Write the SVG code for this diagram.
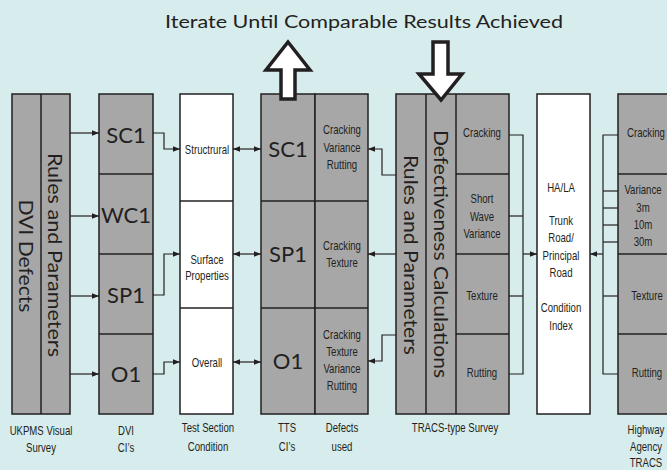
<svg xmlns="http://www.w3.org/2000/svg" width="667" height="470" viewBox="0 0 667 470">
<defs>
<marker id="ah" markerUnits="userSpaceOnUse" markerWidth="8" markerHeight="8" refX="7" refY="4" orient="auto">
<path d="M0,1.2 L7,4 L0,6.8 Z" fill="#231f20"/>
</marker>
<marker id="as" markerUnits="userSpaceOnUse" markerWidth="8" markerHeight="8" refX="1" refY="4" orient="auto">
<path d="M8,1.2 L1,4 L8,6.8 Z" fill="#231f20"/>
</marker>
<style>
.g{fill:#a7a7a7;stroke:#231f20;stroke-width:1.5}
.w{fill:#ffffff;stroke:#231f20;stroke-width:1.5}
.d{stroke:#231f20;stroke-width:1.5;fill:none}
.c{stroke:#231f20;stroke-width:1.2;fill:none}
.big{font-family:Lato,"Open Sans",sans-serif;font-size:22px;fill:#231f20;text-anchor:middle}
.rot{font-family:Lato,"Open Sans",sans-serif;font-size:19px;fill:#231f20;text-anchor:middle}
.sm{font-family:"Liberation Sans",Arial,sans-serif;font-size:12px;fill:#231f20;text-anchor:middle}
.title{font-family:Lato,"Open Sans",sans-serif;font-size:18px;fill:#231f20;text-anchor:middle}
.fat{fill:#ffffff;stroke:#231f20;stroke-width:3.5;stroke-linejoin:miter}
</style>
</defs>
<rect x="0" y="0" width="667" height="470" fill="#d7ecec"/>

<text class="title" x="364" y="28" textLength="398" lengthAdjust="spacingAndGlyphs">Iterate Until Comparable Results Achieved</text>

<g id="ukpms-visual-survey">
<rect class="g" x="12" y="94" width="58" height="320"/>
<line class="d" x1="41" y1="94" x2="41" y2="414"/>
<text class="rot" transform="translate(26,256) rotate(90)" y="7" textLength="113" lengthAdjust="spacingAndGlyphs" font-size="20">DVI Defects</text>
<text class="rot" transform="translate(55,255) rotate(90)" y="7" textLength="204" lengthAdjust="spacingAndGlyphs">Rules and Parameters</text>
<text class="sm" transform="translate(41,435) scale(0.8,1)">UKPMS Visual</text>
<text class="sm" transform="translate(41,452) scale(0.8,1)">Survey</text>
</g>

<g id="dvi-cis">
<rect class="g" x="99" y="94" width="54" height="320"/>
<line class="d" x1="99" y1="174" x2="153" y2="174"/>
<line class="d" x1="99" y1="254" x2="153" y2="254"/>
<line class="d" x1="99" y1="334" x2="153" y2="334"/>
<text class="big" x="126" y="143">SC1</text>
<text class="big" x="126" y="223">WC1</text>
<text class="big" x="126" y="303">SP1</text>
<text class="big" x="126" y="382">O1</text>
<text class="sm" transform="translate(126,435) scale(0.8,1)">DVI</text>
<text class="sm" transform="translate(126,452) scale(0.8,1)">CI’s</text>
</g>

<g id="test-section-condition">
<rect class="w" x="180" y="94" width="53" height="320"/>
<line class="d" x1="180" y1="201" x2="233" y2="201"/>
<line class="d" x1="180" y1="308" x2="233" y2="308"/>
<text class="sm" transform="translate(207,153.5) scale(0.8,1)">Structrural</text>
<text class="sm" transform="translate(207,264) scale(0.8,1)">Surface</text>
<text class="sm" transform="translate(207,280) scale(0.8,1)">Properties</text>
<text class="sm" transform="translate(207,367) scale(0.8,1)">Overall</text>
<text class="sm" transform="translate(208,432) scale(0.8,1)">Test Section</text>
<text class="sm" transform="translate(208,451) scale(0.8,1)">Condition</text>
</g>

<g id="tts-cis">
<rect class="g" x="261" y="94" width="54" height="320"/>
<line class="d" x1="261" y1="201" x2="315" y2="201"/>
<line class="d" x1="261" y1="308" x2="315" y2="308"/>
<text class="big" x="288" y="157">SC1</text>
<text class="big" x="288" y="262">SP1</text>
<text class="big" x="288" y="369">O1</text>
<text class="sm" transform="translate(287,432) scale(0.8,1)">TTS</text>
<text class="sm" transform="translate(287,451) scale(0.8,1)">CI’s</text>
</g>

<g id="defects-used">
<rect class="g" x="315" y="94" width="53" height="320"/>
<line class="d" x1="315" y1="201" x2="368" y2="201"/>
<line class="d" x1="315" y1="308" x2="368" y2="308"/>
<text class="sm" transform="translate(342,134) scale(0.8,1)">Cracking</text>
<text class="sm" transform="translate(342,152) scale(0.8,1)">Variance</text>
<text class="sm" transform="translate(342,169) scale(0.8,1)">Rutting</text>
<text class="sm" transform="translate(342,250) scale(0.8,1)">Cracking</text>
<text class="sm" transform="translate(342,267) scale(0.8,1)">Texture</text>
<text class="sm" transform="translate(342,339) scale(0.8,1)">Cracking</text>
<text class="sm" transform="translate(342,356) scale(0.8,1)">Texture</text>
<text class="sm" transform="translate(342,373) scale(0.8,1)">Variance</text>
<text class="sm" transform="translate(342,390) scale(0.8,1)">Rutting</text>
<text class="sm" transform="translate(342,432) scale(0.8,1)">Defects</text>
<text class="sm" transform="translate(342,451) scale(0.8,1)">used</text>
</g>

<g id="tracs-type-survey">
<rect class="g" x="396" y="94" width="113" height="320"/>
<line class="d" x1="426" y1="94" x2="426" y2="414"/>
<line class="d" x1="456" y1="94" x2="456" y2="414"/>
<line class="d" x1="456" y1="174" x2="509" y2="174"/>
<line class="d" x1="456" y1="254" x2="509" y2="254"/>
<line class="d" x1="456" y1="334" x2="509" y2="334"/>
<text class="rot" transform="translate(411,255) rotate(90)" y="7" textLength="200" lengthAdjust="spacingAndGlyphs">Rules and Parameters</text>
<text class="rot" transform="translate(441,254) rotate(90)" y="7" textLength="248" lengthAdjust="spacingAndGlyphs">Defectiveness Calculations</text>
<text class="sm" transform="translate(482,137) scale(0.8,1)">Cracking</text>
<text class="sm" transform="translate(482,203) scale(0.8,1)">Short</text>
<text class="sm" transform="translate(482,221) scale(0.8,1)">Wave</text>
<text class="sm" transform="translate(482,238) scale(0.8,1)">Variance</text>
<text class="sm" transform="translate(482,300) scale(0.8,1)">Texture</text>
<text class="sm" transform="translate(482,377) scale(0.8,1)">Rutting</text>
<text class="sm" transform="translate(455,432) scale(0.8,1)">TRACS-type Survey</text>
</g>

<g id="trunk-road-condition-index">
<rect class="w" x="537" y="94" width="53" height="320"/>
<text class="sm" transform="translate(561,192) scale(0.8,1)">HA/LA</text>
<text class="sm" transform="translate(561,225) scale(0.8,1)">Trunk</text>
<text class="sm" transform="translate(561,242) scale(0.8,1)">Road/</text>
<text class="sm" transform="translate(561,260) scale(0.8,1)">Principal</text>
<text class="sm" transform="translate(561,277) scale(0.8,1)">Road</text>
<text class="sm" transform="translate(561,312) scale(0.8,1)">Condition</text>
<text class="sm" transform="translate(561,330) scale(0.8,1)">Index</text>
</g>

<g id="highway-agency-tracs">
<rect class="g" x="618" y="94" width="56" height="320"/>
<line class="d" x1="618" y1="174" x2="674" y2="174"/>
<line class="d" x1="618" y1="254" x2="674" y2="254"/>
<line class="d" x1="618" y1="334" x2="674" y2="334"/>
<text class="sm" transform="translate(646,137) scale(0.8,1)">Cracking</text>
<text class="sm" transform="translate(643,194) scale(0.8,1)">Variance</text>
<text class="sm" transform="translate(643,212) scale(0.8,1)">3m</text>
<text class="sm" transform="translate(643,229) scale(0.8,1)">10m</text>
<text class="sm" transform="translate(643,246) scale(0.8,1)">30m</text>
<text class="sm" transform="translate(647,300) scale(0.8,1)">Texture</text>
<text class="sm" transform="translate(647,377) scale(0.8,1)">Rutting</text>
<text class="sm" transform="translate(646,434) scale(0.8,1)">Highway</text>
<text class="sm" transform="translate(646,451) scale(0.8,1)">Agency</text>
<text class="sm" transform="translate(646,467) scale(0.8,1)">TRACS</text>
</g>

<g id="iterate-arrows">
<polygon class="fat" points="288,42 310,70 295,70 295,99 281,99 281,70 266,70"/>
<polygon class="fat" points="433,42 448,42 448,74 462,74 441,100 419,74 433,74"/>
</g>

<g id="connectors">
<line class="c" x1="70" y1="133" x2="99" y2="133" marker-end="url(#ah)"/>
<line class="c" x1="70" y1="216" x2="99" y2="216" marker-end="url(#ah)"/>
<line class="c" x1="70" y1="296" x2="99" y2="296" marker-end="url(#ah)"/>
<line class="c" x1="70" y1="374" x2="99" y2="374" marker-end="url(#ah)"/>

<polyline class="c" points="153,133 164,133 164,149 180,149" marker-end="url(#ah)"/>
<polyline class="c" points="153,295 164,295 164,254 180,254" marker-end="url(#ah)"/>
<polyline class="c" points="153,374 164,374 164,362 180,362" marker-end="url(#ah)"/>

<line class="c" x1="233" y1="149" x2="261" y2="149" marker-start="url(#as)" marker-end="url(#ah)"/>
<line class="c" x1="233" y1="254" x2="261" y2="254" marker-start="url(#as)" marker-end="url(#ah)"/>
<line class="c" x1="233" y1="362" x2="261" y2="362" marker-start="url(#as)" marker-end="url(#ah)"/>

<polyline class="c" points="396,175 382,175 382,149 368,149" marker-end="url(#ah)"/>
<line class="c" x1="396" y1="254" x2="368" y2="254" marker-end="url(#ah)"/>
<polyline class="c" points="396,335 382,335 382,361 368,361" marker-end="url(#ah)"/>

<polyline class="c" points="509,135 523,135 523,374 509,374"/>
<line class="c" x1="509" y1="216" x2="523" y2="216"/>
<line class="c" x1="509" y1="296" x2="523" y2="296"/>
<line class="c" x1="523" y1="254" x2="537" y2="254" marker-end="url(#ah)"/>

<polyline class="c" points="618,135 603,135 603,374 618,374"/>
<line class="c" x1="603" y1="191" x2="618" y2="191"/>
<line class="c" x1="603" y1="208" x2="618" y2="208"/>
<line class="c" x1="603" y1="225" x2="618" y2="225"/>
<line class="c" x1="603" y1="242" x2="618" y2="242"/>
<line class="c" x1="603" y1="296" x2="618" y2="296"/>
<line class="c" x1="603" y1="254" x2="590" y2="254" marker-end="url(#ah)"/>
</g>
</svg>
